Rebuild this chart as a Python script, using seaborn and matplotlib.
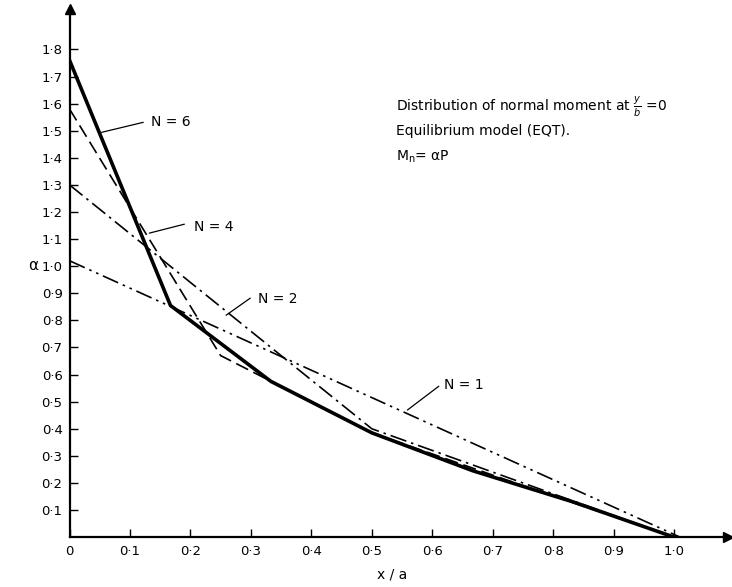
import matplotlib
matplotlib.use('Agg')
import matplotlib.pyplot as plt
import pandas as pd
import seaborn as sns

# valores (x/a, alpha)
x_n6 = [0.0, 0.167, 0.333, 0.5, 0.667, 0.833, 1.0]
a_n6 = [1.76, 0.855, 0.575, 0.385, 0.245, 0.13, 0.0]
x_n4 = [0.0, 0.25, 0.5, 0.75, 1.0]
a_n4 = [1.58, 0.67, 0.385, 0.19, 0.0]
x_n2 = [0.0, 0.5, 1.0]
a_n2 = [1.30, 0.40, 0.0]
x_n1 = [0.0, 1.01]
a_n1 = [1.02, 0.0]

xticks = [0.0, 0.1, 0.2, 0.3, 0.4, 0.5, 0.6, 0.7, 0.8, 0.9, 1.0]
xlabels = ['0', '0·1', '0·2', '0·3', '0·4', '0·5', '0·6', '0·7', '0·8', '0·9', '1·0']
yticks = [0.1, 0.2, 0.3, 0.4, 0.5, 0.6, 0.7, 0.8, 0.9, 1.0,
          1.1, 1.2, 1.3, 1.4, 1.5, 1.6, 1.7, 1.8]
ylabels = ['0·1', '0·2', '0·3', '0·4', '0·5', '0·6', '0·7', '0·8', '0·9', '1·0',
           '1·1', '1·2', '1·3', '1·4', '1·5', '1·6', '1·7', '1·8']

sns.set_style('ticks')
plt.rcParams['font.family'] = ['DejaVu Sans']
plt.rcParams['text.color'] = 'black'

fig = plt.figure(figsize=(7.32, 5.87), dpi=100)
ax = fig.add_axes([0.095, 0.085, 0.90, 0.90])

series = [
    (x_n6, a_n6, '-', 2.6),
    (x_n4, a_n4, (0, (8, 3.5)), 1.2),
    (x_n2, a_n2, (0, (10, 3, 1.5, 3)), 1.2),
    (x_n1, a_n1, (0, (10, 3, 1.5, 3, 1.5, 3)), 1.2),
]
for xs, ys, ls, lw in series:
    df = pd.DataFrame({'x': xs, 'a': ys})
    sns.lineplot(data=df, x='x', y='a', ax=ax, color='black',
                 linestyle=ls, linewidth=lw, estimator=None, sort=False)

ax.set_xlim(0, 1.09)
ax.set_ylim(0, 1.95)
ax.set_xticks(xticks)
ax.set_xticklabels(xlabels)
ax.set_yticks(yticks)
ax.set_yticklabels(ylabels)
ax.tick_params(direction='in', length=6, width=1, labelsize=9.5,
               colors='black', labelcolor='black')
ax.tick_params(axis='x', pad=6)
ax.tick_params(axis='y', pad=5)
for s in ['top', 'right']:
    ax.spines[s].set_visible(False)
for s in ['left', 'bottom']:
    ax.spines[s].set_linewidth(1.6)
    ax.spines[s].set_color('black')
ax.set_xlabel('')
ax.set_ylabel('')

# flechas de los ejes
ax.plot(1.09, 0, '>k', ms=7, clip_on=False)
ax.plot(0, 1.95, '^k', ms=7, clip_on=False)

fig.text(392 / 732, 1 - 575 / 587, 'x / a', ha='center', va='center', fontsize=10)
fig.text(33 / 732, 1 - 266 / 587, 'α', ha='center', va='center', fontsize=11)

# etiquetas de las curvas
etiquetas = [
    ('N = 6', (0.135, 1.531), (0.122, 1.531), (0.053, 1.494)),
    ('N = 4', (0.206, 1.144), (0.190, 1.155), (0.132, 1.122)),
    ('N = 2', (0.312, 0.878), (0.299, 0.882), (0.259, 0.819)),
    ('N = 1', (0.620, 0.561), (0.611, 0.557), (0.559, 0.469)),
]
for txt, pos, p0, p1 in etiquetas:
    ax.text(pos[0], pos[1], txt, ha='left', va='center', fontsize=10)
    ax.plot([p0[0], p1[0]], [p0[1], p1[1]], color='black', lw=0.9)

ax.text(0.54, 1.59, r'Distribution of normal moment at $\frac{y}{b}$ =0',
        fontsize=10, ha='left', va='center')
ax.text(0.54, 1.50, 'Equilibrium model (EQT).', fontsize=10, ha='left', va='center')
ax.text(0.54, 1.405, r'M$_\mathregular{n}$= αP', fontsize=10, ha='left', va='center')

fig.savefig('out.png', dpi=100)
